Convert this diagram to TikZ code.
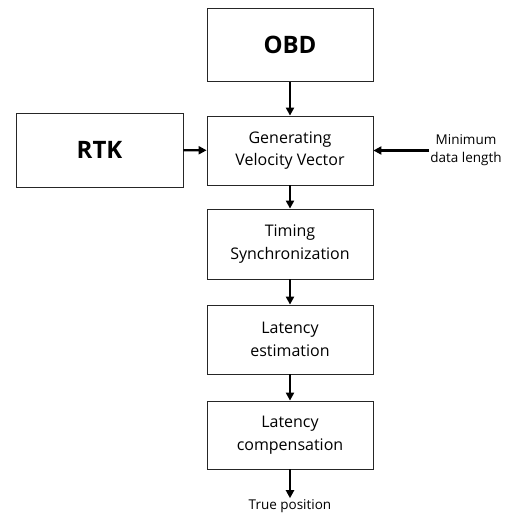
\documentclass[tikz,border=0pt]{standalone}
\usepackage{fontspec}
\setmainfont{Open Sans}
\usetikzlibrary{arrows.meta}
\tikzset{
  blk/.style={draw=black!85, line width=0.8pt, minimum width=166pt, align=center, inner sep=0pt,
    font=\fontsize{16}{22.5}\selectfont},
  bigtxt/.style={font=\fontsize{24}{28}\selectfont\bfseries},
  flow/.style={-{Triangle[length=8pt,width=8pt]}, line width=2.2pt},
  note/.style={align=center, inner sep=1pt, font=\fontsize{13.5}{18}\selectfont}
}
\begin{document}
\begin{tikzpicture}[x=1pt,y=-1pt]
      \useasboundingbox (0,0) rectangle (518,518);
      \node[blk, bigtxt, minimum height=73pt] (obd) at (290,45) {OBD};
      \node[blk, bigtxt, minimum width=167pt, minimum height=74pt] (rtk) at (99.5,150) {RTK};
      \node[blk, minimum height=69pt] (gvv) at (290,150.5) {Generating\\Velocity Vector};
      \node[note] (mdl) at (466,150.5) {Minimum\\data length};
      \node[blk, minimum height=70pt] (sync) at (290,244) {Timing\\Synchronization};
      \node[blk, minimum height=69pt] (est) at (290,339.5) {Latency\\estimation};
      \node[blk, minimum height=68pt] (comp) at (290,435) {Latency\\compensation};
      \node[note] (tp) at (290,506) {True position};
      \draw[flow] (obd) to (gvv);
      \draw[flow] (rtk) to (gvv);
      \draw[flow] (mdl.west) to (gvv.east);
      \draw[flow] (gvv) to (sync);
      \draw[flow] (sync) to (est);
      \draw[flow] (est) to (comp);
      \draw[flow] (comp) to (tp);
\end{tikzpicture}
\end{document}
